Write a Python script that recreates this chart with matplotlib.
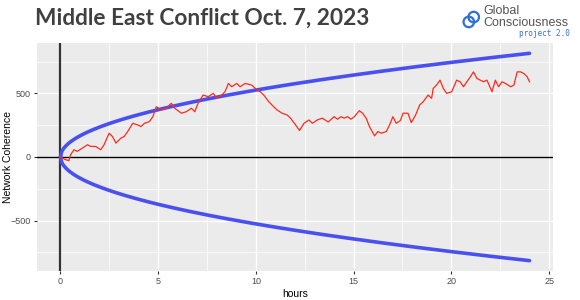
import numpy as np
import matplotlib.pyplot as plt
from matplotlib.patches import Circle

plt.rcParams['font.family'] = 'Liberation Sans'

# cumulative network coherence
hours = [0, 0.09, 0.26, 0.43, 0.52, 0.69, 0.86, 1.12, 1.38, 1.55, 1.80, 2.06, 2.23,
         2.49, 2.66, 2.84, 3.09, 3.26, 3.44, 3.70, 3.95, 4.12, 4.30, 4.55, 4.73,
         4.90, 5.15, 5.41, 5.67, 5.84, 6.19, 6.44, 6.70, 6.87, 7.04, 7.30, 7.56,
         7.82, 7.99, 8.25, 8.42, 8.59, 8.76, 9.02, 9.19, 9.45, 9.79, 10.05, 10.22,
         10.40, 10.66, 10.91, 11.08, 11.34, 11.60, 11.77, 12.03, 12.23, 12.46,
         12.71, 12.89, 13.14, 13.40, 13.70, 14.00, 14.18, 14.35, 14.52, 14.69,
         14.86, 15.04, 15.29, 15.46, 15.64, 15.81, 16.07, 16.24, 16.41, 16.67,
         16.84, 17.01, 17.18, 17.39, 17.53, 17.78, 17.95, 18.17, 18.38, 18.56,
         18.81, 18.99, 19.07, 19.24, 19.42, 19.59, 19.76, 20.02, 20.27, 20.45,
         20.62, 20.79, 20.97, 21.13, 21.31, 21.48, 21.65, 21.82, 22.08, 22.25,
         22.42, 22.59, 22.77, 23.03, 23.20, 23.37, 23.54, 23.71, 23.88, 24.0]
coherence = [0, -8, -21, -29, 18, 57, 44, 70, 96, 83, 83, 57, 96,
             187, 161, 109, 148, 161, 200, 265, 252, 239, 265, 278, 317,
             395, 370, 383, 422, 383, 344, 356, 383, 356, 422, 487, 474,
             500, 461, 487, 513, 578, 552, 578, 552, 578, 565, 526, 513,
             487, 434, 395, 370, 344, 330, 305, 252, 208, 265,
             291, 265, 291, 305, 275, 317, 297, 317, 305, 317,
             297, 317, 364, 344, 305, 239, 166, 200, 187, 200,
             252, 317, 265, 286, 344, 344, 270, 330, 409, 434,
             487, 461, 539, 565, 604, 539, 500, 513, 604, 591,
             552, 591, 630, 669, 617, 604, 591, 604, 513, 604,
             552, 591, 578, 552, 565, 669, 669, 656, 630, 591]

# 95% probability envelope for the cumulative deviation (1 trial per second)
duration_h = 24
env_h = np.linspace(0, duration_h, 400)
envelope = 1.96 * np.sqrt(2 * env_h * 3600)

fig = plt.figure(figsize=(5.8, 3.0), dpi=100)
ax = fig.add_axes([0.0638, 0.0967, 0.8896, 0.76])
ax.set_facecolor('#EBEBEB')

ax.set_xlim(-1.2, 25.2)
ax.set_ylim(-896, 896)
ax.set_xticks([0, 5, 10, 15, 20, 25])
ax.set_xticks([2.5, 7.5, 12.5, 17.5, 22.5], minor=True)
ax.set_yticks([-500, 0, 500])
ax.set_yticks([-750, -250, 250, 750], minor=True)
ax.grid(which='major', color='white', linewidth=1.0)
ax.grid(which='minor', color='white', linewidth=0.5)
ax.set_axisbelow(True)
for s in ax.spines.values():
    s.set_visible(False)
ax.tick_params(which='major', length=2.5, width=0.8, color='#333333',
               labelsize=6.5, labelcolor='#4D4D4D', pad=2)
ax.tick_params(which='minor', length=0)

ax.axvline(0, color='#333333', linewidth=1.6, zorder=2)
ax.axhline(0, color='black', linewidth=1.0, zorder=2)

ax.plot(env_h, envelope, color='#4A50F0', linewidth=2.6, zorder=3,
        solid_capstyle='round')
ax.plot(env_h, -envelope, color='#4A50F0', linewidth=2.6, zorder=3,
        solid_capstyle='round')
ax.plot(hours, coherence, color='#FF2A1A', linewidth=0.9, zorder=4)

ax.set_xlabel('hours', fontsize=7.5, labelpad=2)
ax.set_ylabel('Network Coherence', fontsize=7.5)
ax.yaxis.set_label_coords(-0.046, 0.5)

fig.text(0.06, 0.94, 'Middle East Conflict Oct. 7, 2023', fontsize=16.3,
         fontweight='bold', family='Lato', color='#404040', va='center')

# logo
fig.text(0.833, 0.965, 'Global', fontsize=9, color='#555555', va='center')
fig.text(0.833, 0.925, 'Consciousness', fontsize=9, color='#555555', va='center')
fig.text(0.983, 0.89, 'project 2.0', fontsize=5.5, family='DejaVu Sans Mono',
         color='#3A6FD8', va='center', ha='right')
lax = fig.add_axes([0.795, 0.9, 0.035, 0.07])
lax.set_aspect('equal')
lax.set_xlim(0, 1)
lax.set_ylim(0, 1)
lax.axis('off')
lax.add_patch(Circle((0.38, 0.38), 0.26, fill=False, ec='#2E6FD8', lw=1.6))
lax.add_patch(Circle((0.62, 0.62), 0.26, fill=False, ec='#2E6FD8', lw=1.6))

fig.savefig('out.png', dpi=100)
